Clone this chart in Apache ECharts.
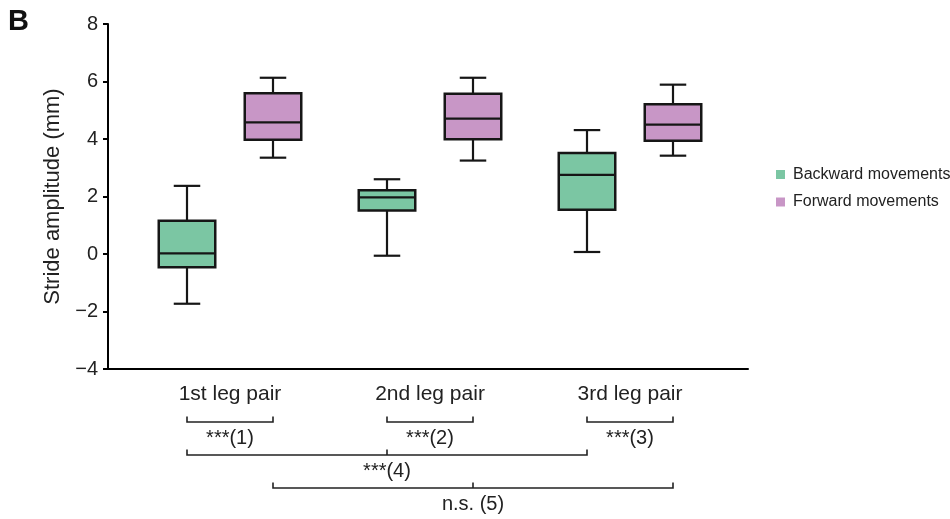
<!DOCTYPE html>
<html>
<head>
<meta charset="utf-8">
<script src="https://cdn.jsdelivr.net/npm/echarts@6/dist/echarts.min.js"></script>
<style>
    html, body { margin: 0; padding: 0; background: #fff; }
    #chart { width: 950px; height: 519px; }
</style>
</head>
<body>
<div id="chart"></div>
<script>
    // categories
    const legPairs = ['1st leg pair', '2nd leg pair', '3rd leg pair'];
    const seriesNames = ['Backward movements', 'Forward movements'];
    // [min, Q1, median, Q3, max] for each leg pair
    const backwardStats = [
        [-1.73, -0.46, 0.02, 1.16, 2.37],
        [-0.06, 1.51, 1.97, 2.22, 2.60],
        [0.07, 1.54, 2.75, 3.51, 4.31]
    ];
    const forwardStats = [
        [3.35, 3.97, 4.58, 5.59, 6.13],
        [3.25, 3.99, 4.71, 5.57, 6.13],
        [3.42, 3.94, 4.50, 5.21, 5.89]
    ];
    const yTicks = [-4, -2, 0, 2, 4, 6, 8];
    // brackets: [from leg, from series, to leg, to series, label, level]
    const comparisons = [
        [0, 0, 0, 1, '***(1)', 0],
        [1, 0, 1, 1, '***(2)', 0],
        [2, 0, 2, 1, '***(3)', 0],
        [0, 0, 2, 0, '***(4)', 1],
        [0, 1, 2, 1, 'n.s. (5)', 2]
    ];

    const FONT = '"Liberation Sans", Arial, Helvetica, sans-serif';
    const colors = ['#7bc6a3', '#c896c6'];
    const boxOffset = [-43, 43];
    const BOX = 56.5, CAP = 26.5, STROKE = '#161616';
    const TXT = '#222';

    const chart = echarts.init(document.getElementById('chart'));

    function boxRenderer(offset, fill) {
        return function (params, api) {
            const x = api.coord([api.value(0), 0])[0] + offset;
            const y = [1, 2, 3, 4, 5].map(d => api.coord([api.value(0), api.value(d)])[1]);
            const line = (x1, y1, x2, y2) => ({
                type: 'line', shape: {x1, y1, x2, y2},
                style: {stroke: STROKE, lineWidth: 2.2}
            });
            return {
                type: 'group',
                children: [
                    line(x, y[0], x, y[1]),
                    line(x, y[3], x, y[4]),
                    line(x - CAP / 2, y[0], x + CAP / 2, y[0]),
                    line(x - CAP / 2, y[4], x + CAP / 2, y[4]),
                    {
                        type: 'rect',
                        shape: {x: x - BOX / 2, y: y[3], width: BOX, height: y[1] - y[3]},
                        style: {fill: fill, stroke: STROKE, lineWidth: 2.5}
                    },
                    line(x - BOX / 2, y[2], x + BOX / 2, y[2])
                ]
            };
        };
    }

    const yMin = yTicks[0], yMax = yTicks[yTicks.length - 1], yStep = yTicks[1] - yTicks[0];

    chart.setOption({
        animation: false,
        textStyle: {fontFamily: FONT},
        grid: [
            // frame (axis lines)
            {left: 108, right: 202, top: 24, bottom: 150},
            // boxes
            {left: 130, width: 600, top: 24, bottom: 150}
        ],
        legend: {
            orient: 'vertical',
            left: 776,
            top: 165.5,
            padding: 0,
            itemGap: 9.5,
            itemWidth: 9,
            itemHeight: 9,
            icon: 'rect',
            itemStyle: {borderWidth: 0},
            textStyle: {fontSize: 16, color: TXT, lineHeight: 18, padding: [0, 0, 0, 3]},
            data: seriesNames
        },
        xAxis: [
            {
                gridIndex: 0, type: 'value', min: 0, max: 1,
                axisLine: {show: true, onZero: false, lineStyle: {color: '#000', width: 2}},
                axisTick: {show: false}, axisLabel: {show: false}, splitLine: {show: false}
            },
            {
                gridIndex: 1, type: 'category', data: legPairs,
                axisLine: {show: false}, axisTick: {show: false},
                axisLabel: {fontSize: 21, color: TXT, margin: 15}
            }
        ],
        yAxis: [
            {
                gridIndex: 0, type: 'value', min: yMin, max: yMax, interval: yStep,
                axisLine: {show: true, onZero: false, lineStyle: {color: '#000', width: 2}},
                axisTick: {show: true, length: 5, lineStyle: {color: '#000', width: 2}},
                axisLabel: {
                    fontSize: 20, color: TXT, margin: 10,
                    formatter: v => String(v).replace('-', '\u2212')
                },
                splitLine: {show: false},
                name: 'Stride amplitude (mm)',
                nameLocation: 'middle',
                nameRotate: 90,
                nameGap: 41,
                nameTextStyle: {fontSize: 22, color: TXT}
            },
            {gridIndex: 1, type: 'value', min: yMin, max: yMax, show: false}
        ],
        series: [backwardStats, forwardStats].map((stats, s) => ({
            name: seriesNames[s],
            type: 'custom',
            xAxisIndex: 1,
            yAxisIndex: 1,
            itemStyle: {color: colors[s]},
            encode: {x: 0, y: [1, 2, 3, 4, 5]},
            renderItem: boxRenderer(boxOffset[s], colors[s]),
            data: legPairs.map((c, i) => [c].concat(stats[i]))
        }))
    });

    // significance brackets below the axis
    const levelY = [422, 455, 488];
    const labelY = [438, 471, 504];
    const TICK = 5.5;
    const boxX = (leg, s) => chart.convertToPixel({xAxisIndex: 1}, legPairs[leg]) + boxOffset[s];
    const graphic = [{
        type: 'text', left: 8, top: 7,
        style: {text: 'B', font: 'bold 29px ' + FONT, fill: '#111'}
    }];
    comparisons.forEach(([l1, s1, l2, s2, text, level]) => {
        const x1 = boxX(l1, s1), x2 = boxX(l2, s2), y = levelY[level];
        const style = {stroke: '#222', lineWidth: 1.6, fill: null};
        graphic.push({
            type: 'polyline',
            shape: {points: [[x1, y - TICK], [x1, y], [x2, y], [x2, y - TICK]]},
            style: style
        });
        let tx = (x1 + x2) / 2;
        if (l1 !== l2) {
            // middle tick at the middle leg pair
            const xm = boxX(1, s1);
            graphic.push({type: 'line', shape: {x1: xm, y1: y - TICK, x2: xm, y2: y}, style: style});
            tx = xm;
        }
        graphic.push({
            type: 'text', x: tx, y: labelY[level],
            style: {text: text, font: '20px ' + FONT, fill: TXT, align: 'center', verticalAlign: 'middle'}
        });
    });
    chart.setOption({graphic: graphic});
</script>
</body>
</html>
